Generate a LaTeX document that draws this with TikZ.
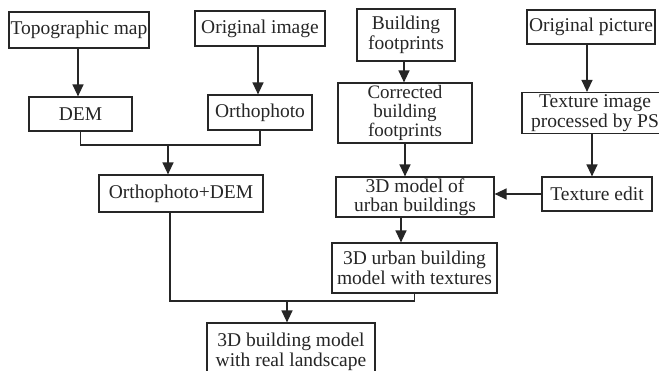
\documentclass[tikz,border=0pt]{standalone}
\usepackage{fontspec}
\setmainfont{Liberation Serif}
\usetikzlibrary{arrows.meta}
\tikzset{
  box/.style={draw=black!85, line width=1.2pt, fill=white, inner sep=0pt, align=center,
    font=\fontsize{19.5}{19.5}\selectfont, text=black!85},
  conn/.style={line width=1.3pt, draw=black!85},
  arr/.style={conn, -{Triangle[length=12pt,width=11pt]}}
}
\begin{document}
\begin{tikzpicture}[x=1pt,y=-1pt]
\clip (0,0) rectangle (659,371);
\fill[white] (0,0) rectangle (659,371);
% left column
\node[box, minimum width=140pt, minimum height=36pt] (topo) at (79,30) {Topographic map};
\node[box, minimum width=130pt, minimum height=35pt] (origimg) at (260,28.5) {Original image};
\node[box, minimum width=103pt, minimum height=34pt] (dem) at (80.5,114) {DEM};
\node[box, minimum width=104pt, minimum height=35pt] (ortho) at (260,112.5) {Orthophoto};
\node[box, minimum width=164pt, minimum height=37pt] (odem) at (181,193.5) {Orthophoto+DEM};
% middle column
\node[box, minimum width=98pt, minimum height=52pt] (bfoot) at (406,35) {Building\\footprints};
\node[box, minimum width=134pt, minimum height=60pt, font=\fontsize{19}{19}\selectfont] (corr) at (405,113) {Corrected\\building\\footprints};
\node[box, minimum width=158pt, minimum height=40pt, font=\fontsize{19.5}{19}\selectfont] (model) at (415,197) {3D model of\\urban buildings};
\node[box, minimum width=165pt, minimum height=50pt] (urbtex) at (414.5,268) {3D urban building\\model with textures};
% right column
\node[box, minimum width=128pt, minimum height=34pt] (origpic) at (591,27) {Original picture};
\node[box, minimum width=146pt, minimum height=41pt] (texim) at (595,113) {Texture image\\processed by PS};
\node[box, minimum width=110pt, minimum height=34pt] (texedit) at (597,194) {Texture edit};
% final
\node[box, minimum width=168pt, minimum height=58pt] (final) at (291,352) {3D building model\\with real landscape};
% connectors
\draw[arr] (topo.south -| 78,0) -- (dem.north -| 78,0);
\draw[arr] (origimg.south -| 258,0) -- (ortho.north -| 258,0);
\coordinate (j1) at (168,145);
\draw[conn] (dem.south) |- (j1) -| (ortho.south);
\draw[arr] (j1) -- (j1 |- odem.north);
\draw[arr] (bfoot.south -| 404,0) -- (corr.north -| 404,0);
\draw[arr] (corr.south -| 405,0) -- (model.north -| 405,0);
\draw[arr] (model.south -| 401,0) -- (urbtex.north -| 401,0);
\draw[arr] (origpic.south -| 587,0) -- (texim.north -| 587,0);
\draw[arr] (texim.south -| 592,0) -- (texedit.north -| 592,0);
\draw[arr] (texedit.west) -- (model.east |- texedit.west);
\coordinate (j2) at (287,301);
\draw[conn] (odem.south -| 170,0) |- (j2) -| (urbtex.south);
\draw[arr] (j2) -- (j2 |- final.north);
\end{tikzpicture}
\end{document}
